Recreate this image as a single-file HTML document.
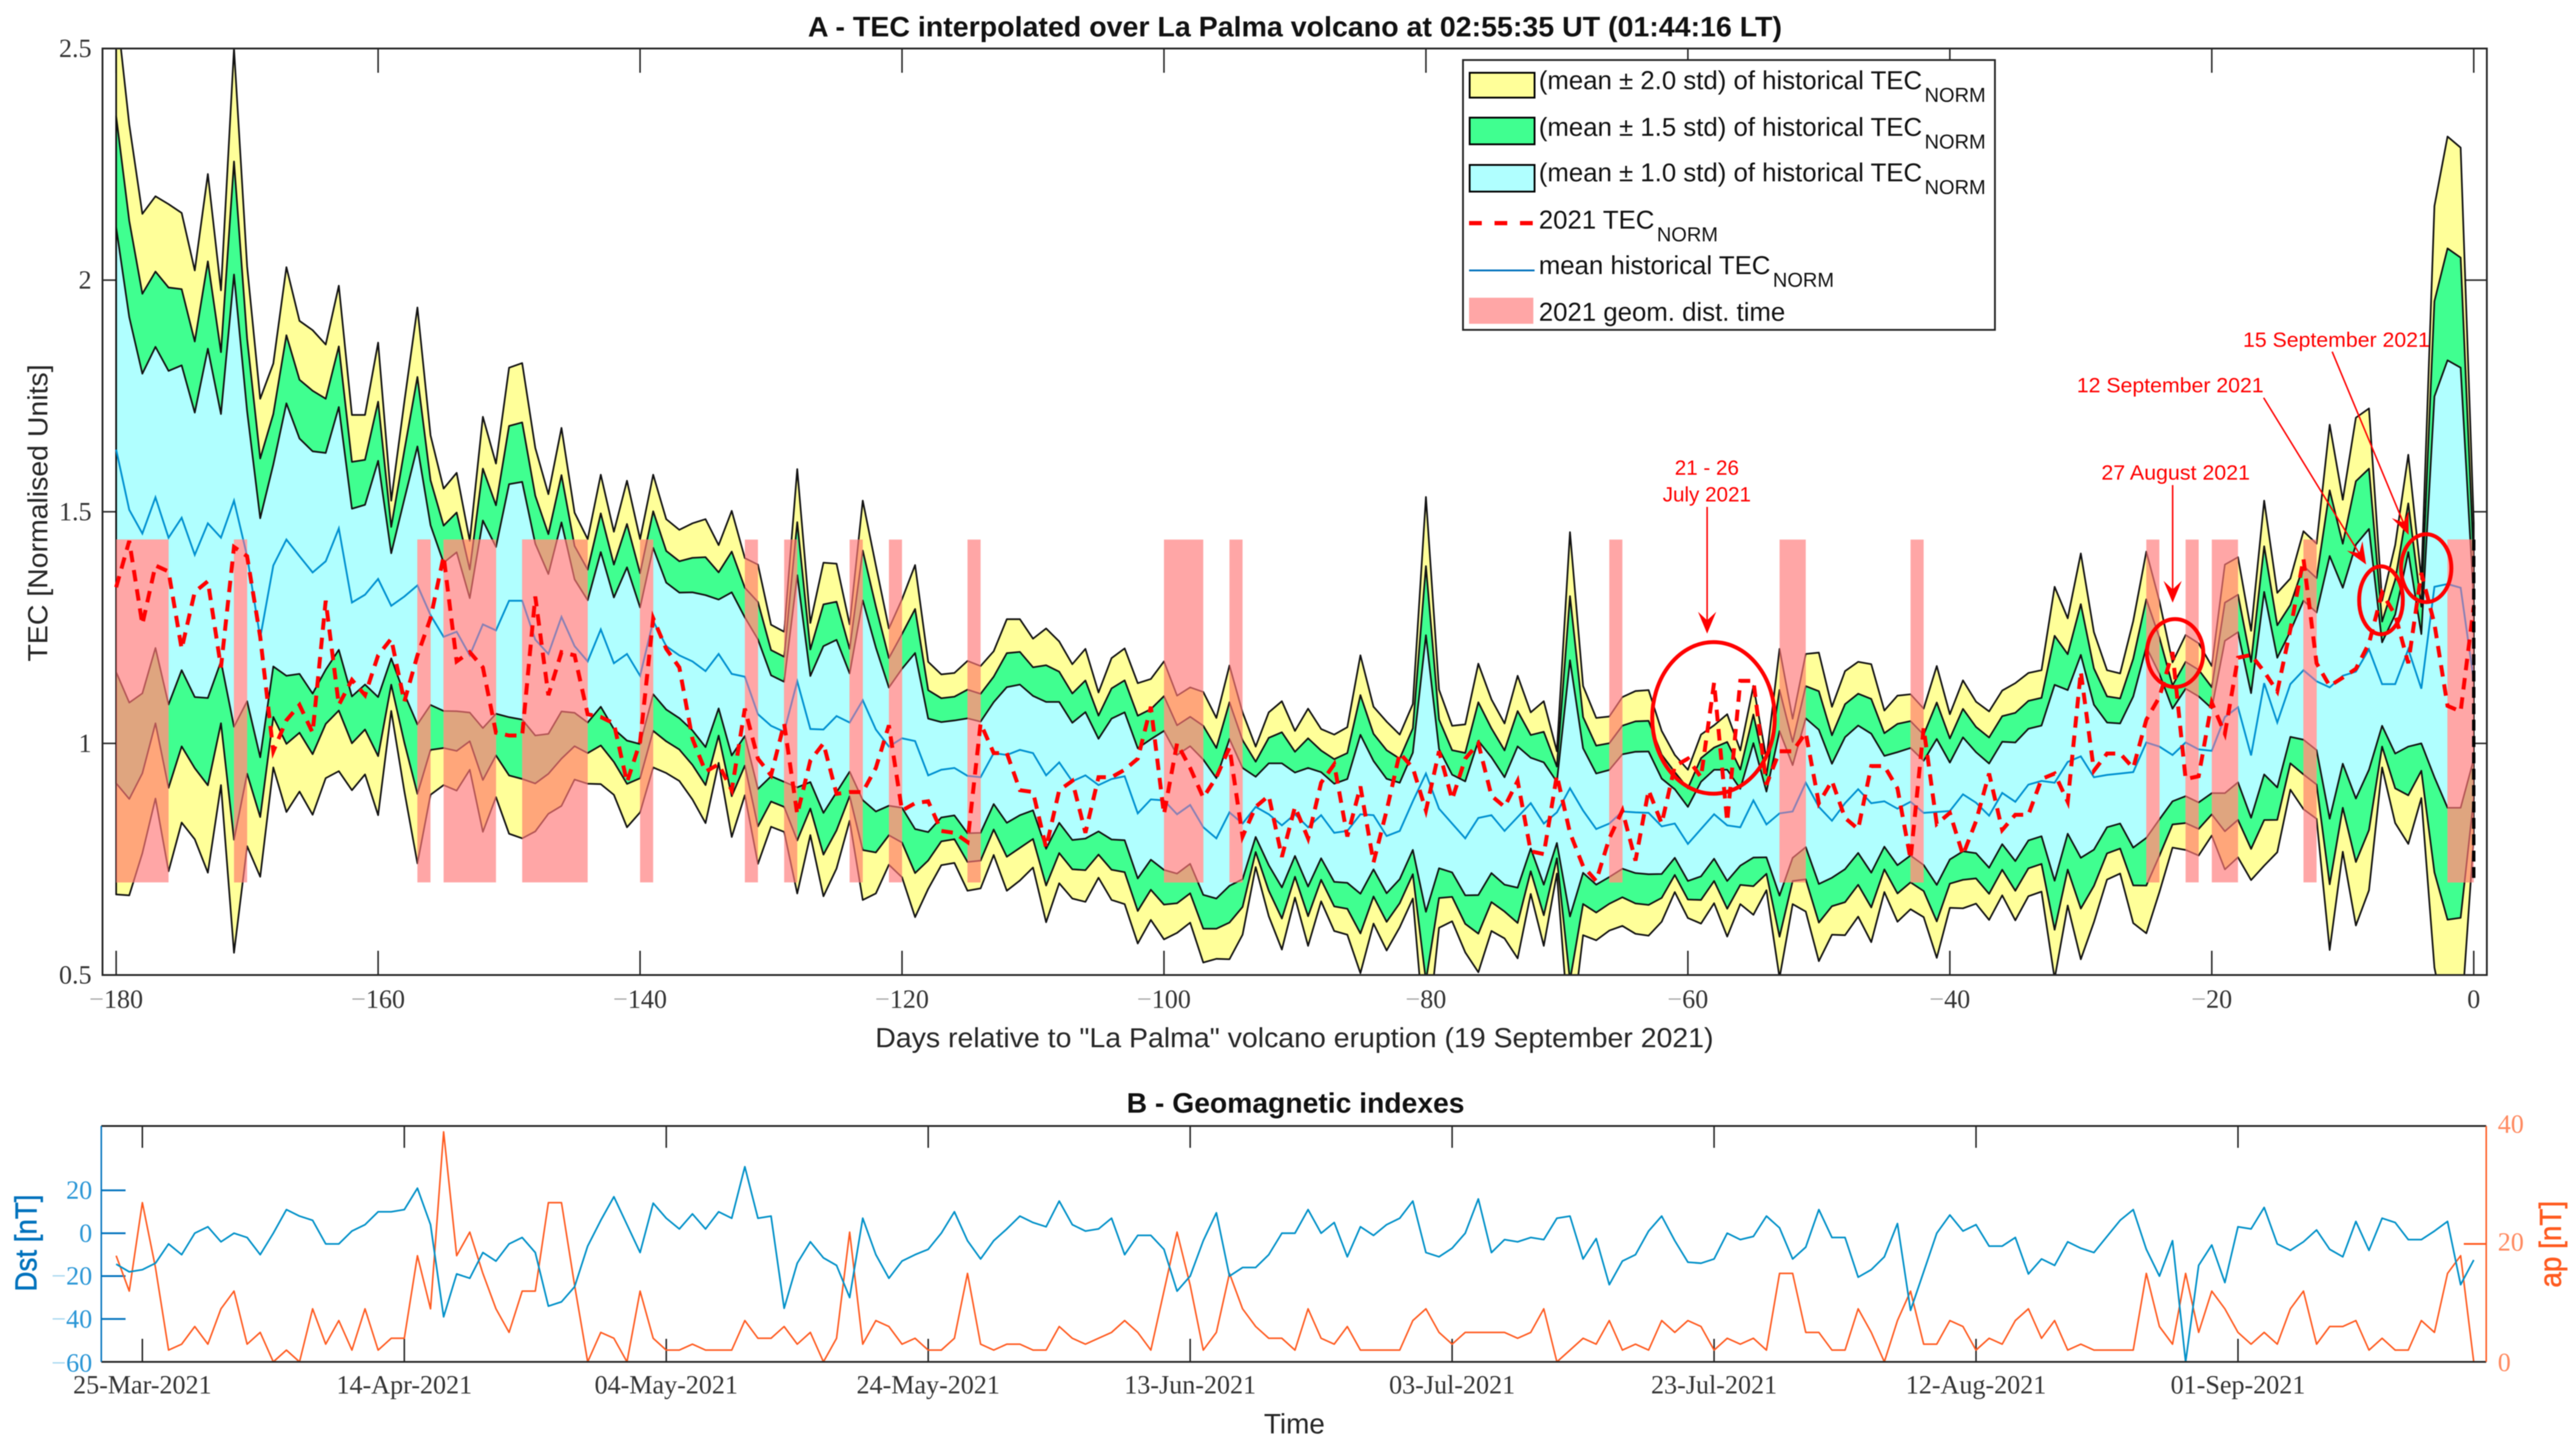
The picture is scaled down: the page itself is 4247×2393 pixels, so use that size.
<!DOCTYPE html>
<html lang="en">
<head>
<meta charset="utf-8">
<title>La Palma TEC and geomagnetic indexes</title>
<style>
html,body{margin:0;padding:0;background:#fff;}
svg{display:block;filter:blur(0.7px);}
text{font-family:"Liberation Sans",sans-serif;fill:#262626;}
.serif{font-family:"Liberation Serif",serif;font-size:43px;fill:#333;}
.leg{font-size:42.5px;fill:#111;}
.ann{font-size:34px;fill:#ff0000;}
</style>
</head>
<body>
<svg id="fig" xmlns="http://www.w3.org/2000/svg" width="4247" height="2393" viewBox="0 0 4247 2393">
  <rect width="4247" height="2393" fill="#fff"/>
  <defs>
    <clipPath id="clipA"><rect x="169" y="80" width="3931" height="1528"/></clipPath>
    <clipPath id="clipPink"></clipPath>
    <clipPath id="clipB"><rect x="167" y="1857" width="3932" height="392"/></clipPath>
  </defs>

  <text x="2135" y="60" text-anchor="middle" font-size="46" font-weight="bold" style="fill:#111" textLength="1606" lengthAdjust="spacingAndGlyphs">A - TEC interpolated over La Palma volcano at 02:55:35 UT (01:44:16 LT)</text>

  <g id="ticksA"></g>
  <g id="plotA" clip-path="url(#clipA)"></g>
  <rect x="169" y="80" width="3931" height="1528" fill="none" stroke="#262626" stroke-width="3"/>
  <g id="labelsA"></g>

  <text transform="translate(78,846) rotate(-90)" text-anchor="middle" font-size="45" textLength="490" lengthAdjust="spacingAndGlyphs">TEC [Normalised Units]</text>
  <text x="2134" y="1727" text-anchor="middle" font-size="45" textLength="1382" lengthAdjust="spacingAndGlyphs">Days relative to "La Palma" volcano eruption (19 September 2021)</text>

  <g>
    <rect x="2412" y="99" width="877" height="445" fill="#fff" stroke="#262626" stroke-width="3"/>
    <rect x="2423" y="120" width="107" height="41" fill="#ffff99" stroke="#000" stroke-width="3"/>
    <text class="leg" x="2537" y="147">(mean ± 2.0 std) of historical TEC<tspan dx="4" dy="21" font-size="33">NORM</tspan></text>
    <rect x="2423" y="194" width="107" height="44" fill="#40ff90" stroke="#000" stroke-width="3"/>
    <text class="leg" x="2537" y="224">(mean ± 1.5 std) of historical TEC<tspan dx="4" dy="21" font-size="33">NORM</tspan></text>
    <rect x="2423" y="272" width="107" height="44" fill="#b0ffff" stroke="#000" stroke-width="3"/>
    <text class="leg" x="2537" y="299">(mean ± 1.0 std) of historical TEC<tspan dx="4" dy="21" font-size="33">NORM</tspan></text>
    <line x1="2422" y1="368" x2="2530" y2="368" stroke="#ff0000" stroke-width="7" stroke-dasharray="21 21"/>
    <text class="leg" x="2537" y="377">2021 TEC<tspan dx="4" dy="21" font-size="33">NORM</tspan></text>
    <line x1="2422" y1="446" x2="2530" y2="446" stroke="#0072bd" stroke-width="3"/>
    <text class="leg" x="2537" y="452">mean historical TEC<tspan dx="4" dy="21" font-size="33">NORM</tspan></text>
    <rect x="2422" y="491" width="106" height="43" fill="#ffa6a6"/>
    <text class="leg" x="2537" y="529">2021 geom. dist. time</text>
  </g>

  <g fill="none" stroke="#ff0000">
    <ellipse cx="2825" cy="1184" rx="101" ry="125" stroke-width="6.5"/>
    <line x1="2814.5" y1="836" x2="2814.5" y2="1040" stroke-width="2.5"/>
    <polygon transform="translate(2814.5,1045) rotate(90)" points="0,0 -36,-15 -22,0 -36,15" fill="#ff0000" stroke="none"/>
    <ellipse cx="3586" cy="1077" rx="46.5" ry="56" stroke-width="6.5"/>
    <line x1="3582" y1="800" x2="3582" y2="988" stroke-width="2.5"/>
    <polygon transform="translate(3582,994) rotate(90)" points="0,0 -36,-15 -22,0 -36,15" fill="#ff0000" stroke="none"/>
    <ellipse cx="3925.5" cy="990" rx="36" ry="56" stroke-width="6.5"/>
    <line x1="3732" y1="656" x2="3899" y2="928" stroke-width="2.5"/>
    <polygon transform="translate(3901,931) rotate(58.4)" points="0,0 -36,-15 -22,0 -36,15" fill="#ff0000" stroke="none"/>
    <ellipse cx="4000" cy="937" rx="41.5" ry="56" stroke-width="6.5"/>
    <line x1="3845" y1="580" x2="3969" y2="878" stroke-width="2.5"/>
    <polygon transform="translate(3971,882) rotate(67.4)" points="0,0 -36,-15 -22,0 -36,15" fill="#ff0000" stroke="none"/>
  </g>
  <text class="ann" x="2814" y="783" text-anchor="middle">21 - 26</text>
  <text class="ann" x="2814" y="827" text-anchor="middle">July 2021</text>
  <text class="ann" x="3587" y="791" text-anchor="middle" textLength="245" lengthAdjust="spacingAndGlyphs">27 August 2021</text>
  <text class="ann" x="3424" y="647" textLength="308" lengthAdjust="spacingAndGlyphs">12 September 2021</text>
  <text class="ann" x="3698" y="572" textLength="308" lengthAdjust="spacingAndGlyphs">15 September 2021</text>

  <text x="2136" y="1835" text-anchor="middle" font-size="46" font-weight="bold" style="fill:#111" textLength="557" lengthAdjust="spacingAndGlyphs">B - Geomagnetic indexes</text>
  <g id="ticksB"></g>
  <g id="plotB" clip-path="url(#clipB)"></g>
  <line x1="167" y1="1857" x2="4099" y2="1857" stroke="#262626" stroke-width="3"/>
  <line x1="167" y1="2246" x2="4099" y2="2246" stroke="#262626" stroke-width="3"/>
  <line x1="167" y1="1857" x2="167" y2="2246" stroke="#0072bd" stroke-width="2.5"/>
  <line x1="4099" y1="1857" x2="4099" y2="2246" stroke="#ff5a1f" stroke-width="2.5"/>
  <g id="labelsB"></g>
  <text transform="translate(60,2050) rotate(-90)" text-anchor="middle" font-size="50" style="fill:#0072bd;stroke:#0072bd;stroke-width:0.8" textLength="160" lengthAdjust="spacingAndGlyphs">Dst [nT]</text>
  <text transform="translate(4222,2052) rotate(-90)" text-anchor="middle" font-size="50" style="fill:#ff5a1f;stroke:#ff5a1f;stroke-width:0.8" textLength="143" lengthAdjust="spacingAndGlyphs">ap [nT]</text>
  <text x="2134" y="2364" text-anchor="middle" font-size="46">Time</text>
</svg>

<script>
const meanHistTec=[1.634,1.504,1.453,1.531,1.444,1.487,1.407,1.475,1.444,1.524,
1.404,1.228,1.384,1.44,1.404,1.369,1.393,1.464,1.304,1.321,
1.355,1.297,1.317,1.341,1.277,1.23,1.241,1.19,1.257,1.244,
1.308,1.308,1.224,1.193,1.273,1.21,1.177,1.246,1.173,1.193,
1.146,1.264,1.21,1.19,1.177,1.156,1.193,1.15,1.144,1.063,
1.038,1.025,1.134,1.031,1.03,1.059,1.045,1.093,1.03,.993,
1.011,1.005,.931,.943,.947,.93,.927,.979,.975,.986,
.979,.931,.959,.918,.931,.91,.923,.929,.849,.879,
.877,.847,.867,.819,.795,.851,.827,.863,.847,.823,
.847,.819,.845,.807,.811,.847,.845,.8,.811,.875,
.935,.859,.827,.795,.839,.845,.811,.841,.871,.827,
.851,.903,.855,.815,.827,.853,.851,.85,.821,.827,
.783,.815,.847,.823,.819,.877,.825,.849,.853,.915,
.863,.833,.871,.901,.871,.875,.859,.874,.85,.852,
.854,.89,.872,.844,.893,.874,.911,.919,.915,.96,
.972,.927,.932,.935,.938,1.002,.993,.975,1.002,.987,
.984,1.057,1.078,.974,1.13,1.045,1.128,1.158,1.134,1.121,
1.146,1.155,1.203,1.128,1.128,1.203,1.118,1.338,1.344,1.336,1.136];

const stdHistTec=[.48,.416,.345,.325,.36,.329,.307,.377,.267,.488,
.313,.258,.218,.294,.254,.2615,.234,.262,.2025,.194,
.255,.1135,.21,.3,.194,.16,.1715,.1235,.224,.18,
.2515,.2565,.207,.1725,.204,.144,.132,.167,.142,.187,
.1475,.158,.137,.1355,.149,.164,.1175,.176,.128,.1615,
.109,.108,.229,.1145,.18,.1645,.106,.2155,.177,.1275,
.15,.19,.1225,.103,.1025,.124,.12,.11,.1465,.141,
.1235,.1585,.1305,.1265,.1365,.1,.1305,.138,.1405,.13,
.15,.128,.127,.146,.13,.1585,.12,.065,.11,.134,
.09,.128,.093,.106,.112,.1715,.117,.1235,.104,.105,
.2985,.1285,.1055,.123,.1665,.125,.116,.1525,.098,.132,
.066,.2765,.1345,.12,.1155,.1235,.131,.1325,.103,.074,
.08,.102,.096,.12,.083,.1235,.071,.1775,.1,.139,
.1665,.123,.1425,.1375,.15,.098,.122,.116,.1125,.1575,
.1045,.123,.109,.1125,.1105,.128,.1205,.1195,.2115,.155,
.219,.1565,.113,.108,.163,.206,.157,.1,.116,.1145,
.0915,.1645,.162,.1345,.197,.14,.114,.15,.1485,.2835,
.19,.274,.26,.09,.15,.21,.118,.411,.483,.475,.17];

const tec2021=[1.337,1.437,1.257,1.384,1.371,1.204,1.327,1.35,1.164,1.424,
1.404,1.23,.983,1.05,1.083,1.023,1.308,1.083,1.137,1.104,
1.19,1.226,1.09,1.19,1.27,1.404,1.177,1.197,1.164,1.023,
1.017,1.017,1.317,1.104,1.197,1.19,1.063,1.057,1.043,.916,
1.003,1.27,1.204,1.164,1.01,.939,.955,.899,1.075,.967,
.931,1.043,.847,.963,1.0,.891,.895,.895,.947,1.039,
.855,.871,.875,.811,.807,.787,1.043,.979,.979,.899,
.895,.775,.899,.919,.807,.927,.927,.943,.967,1.079,
.847,1.0,.947,.883,.927,.991,.799,.863,.887,.755,
.863,.795,.915,.955,.799,.907,.743,.855,.979,.947,
.855,.983,.879,.967,1.0,.887,.863,.919,.767,.761,
.931,.807,.735,.703,.795,.855,.747,.899,.827,.951,
.967,.927,1.131,.831,1.135,1.135,.911,.983,.983,1.023,
.871,.919,.839,.815,.951,.951,.903,.75,1.033,.826,
.85,.759,.832,.935,.813,.846,.846,.923,.935,.874,
1.155,.941,.978,.978,.947,1.051,1.1,1.197,.923,.929,
1.088,1.021,1.185,1.191,1.155,1.112,1.246,1.398,1.173,1.124,
1.142,1.161,1.216,1.325,1.277,1.173,1.368,1.258,1.081,1.069,1.295];

const geomDistStart=[-180,-171,-157,-155,-149,-140,-132,-129,-124,-121,-115,-100,-95,-66,-53,-43,-25,-22,-20,-13,-2];
const geomDistEnd=[-176,-170,-156,-151,-144,-139,-131,-128,-123,-120,-114,-97,-94,-65,-51,-42,-24,-21,-18,-12,0];
const geomDistTop=[1.44];
const geomDistBottom=[0.7];
const bandLevels=[2,1.5,1];

const xTicksA=[-180,-160,-140,-120,-100,-80,-60,-40,-20,0];
const yTicksA=[0.5,1,1.5,2,2.5];
const yTickLabelsA=["0.5","1","1.5","2","2.5"];

const dstValues=[-14.4,-18,-17,-14,-5,-10,0,3,-4,0,-2,-10,0,11,8,6,-5,-5,1,4,10,10,11,21,4,-39,-19,-21,-9,-13,-5,-2,-9,-34,-32,-25,-6,6,17,4,-9,14,7,2,9,2,10,7,31,7,8,-35,-14,-4,-11.5,-15,-30,
7,-10,-21,-13,-10,-7.5,0,10,-3.5,-12,-3.5,2,8,5,3,15,4,1,2,7,-10,-1,-1,-7.5,-27,-20,-3.5,9.5,-20,-16,-16,-10,0,0,11,0,5,-11,3,-1,4,7,15,-9,-11,-7,0,16,-9,-3,-4,-2,-3,7,8,-12,-2.5,-24,-13,-10,1,8,-3.5,-13.5,
-14,-12,0,-3,-1.5,8,2.5,-12,-6.5,11,-2,-2,-20.5,-17,-11,4.5,-36,-18,0,8.5,1,4,-6,-6,-2,-19,-12,-15,-4,-7,-9,-1.5,6,11,-7.5,-20,-3.5,-60,-15,-5.5,-23,3,2,12,-5,-8,-4,1.5,-7.5,-11,5.5,-8,7,5,-3,-3,1,5.5,-24,-12.5];

const apValues=[18,12,27,16,2,3,6,3,9,12,3,5,0,2,0,9,3,7,2,9,2,4,4,18,9,39,18,22,15,9,5,12,12,27,27,13,0,5,4,0,12,4,2,2,3,2,2,2,7,4,4,6,3,5,0,4,22,
3,7,6,3,4,2,2,4,15,3,2,3,3,2,2,6,4,3,4,5,7,5,2,12,22,13,2,5,15,9,6,4,4,2,9,4,3,6,2,2,2,2,7,9,5,3,5,5,5,5,4,5,9,0,2,4,3,7,2,3,2,7,5,7,
6,2,4,3,4,2,15,15,5,5,2,2,9,5,0,7,12,3,3,7,6,2,4,3,7,9,4,7,2,3,2,2,2,2,15,6,3,15,5,12,9,5,3,5,3,9,12,3,6,6,7,2,4,2,2,7,5,15,18,0];

const dateTickIndex=[2,22,42,62,82,102,122,142,162];
const dateTickLabels=["25-Mar-2021","14-Apr-2021","04-May-2021","24-May-2021","13-Jun-2021","03-Jul-2021","23-Jul-2021","12-Aug-2021","01-Sep-2021"];
const dstTicks=[-60,-40,-20,0,20];
const apTicks=[0,20,40];

const NS="http://www.w3.org/2000/svg";
function xA(day){return 191.5+21.594*(day+180);}
function yA(v){return 80+(2.5-v)*764;}
function xB(i){return 191.5+21.594*i;}
function yDst(v){return 2246-(v+60)*3.536;}
function yAp(v){return 2246-v*9.725;}
function mk(tag,parent,attrs){
  const e=document.createElementNS(NS,tag);
  for(const k in attrs){e.setAttribute(k,attrs[k]);}
  parent.appendChild(e);
  return e;
}
function seriesPath(values,xf,yf){
  let d="";
  values.forEach(function(v,i){d+=(i?"L":"M")+xf(i).toFixed(1)+" "+yf(v).toFixed(1);});
  return d;
}
function bandPath(k){
  let up="",low="";
  meanHistTec.forEach(function(m,i){up+=(i?"L":"M")+xA(i-180).toFixed(1)+" "+yA(m+k*stdHistTec[i]).toFixed(1);});
  for(let i=meanHistTec.length-1;i>=0;i--){low+="L"+xA(i-180).toFixed(1)+" "+yA(meanHistTec[i]-k*stdHistTec[i]).toFixed(1);}
  return up+low+"Z";
}
function meanXf(i){return xA(i-180);}
function signedLabel(v,color){
  return v<0?'<tspan style="fill:'+color+'">\u2212</tspan>'+Math.abs(v):String(v);
}

const plotA=document.getElementById("plotA");
const ticksA=document.getElementById("ticksA");
const labelsA=document.getElementById("labelsA");
const clipPink=document.getElementById("clipPink");

/* Panel A ticks */
xTicksA.forEach(function(d){
  const t1=mk("line",ticksA,{x1:xA(d),x2:xA(d),y1:1608,y2:1568,stroke:"#262626","stroke-width":2.5});
  
  
  const t2=mk("line",ticksA,{x1:xA(d),x2:xA(d),y1:80,y2:120,stroke:"#262626","stroke-width":2.5});
  
  
  const lab=mk("text",labelsA,{x:xA(d),y:1662,"text-anchor":"middle","class":"serif"});
  
  
  lab.innerHTML=signedLabel(d,"#aaa");
});
yTicksA.forEach(function(v,i){
  const t1=mk("line",ticksA,{x1:169,x2:209,y1:yA(v),y2:yA(v),stroke:"#262626","stroke-width":2.5});
  
  
  const t2=mk("line",ticksA,{x1:4060,x2:4100,y1:yA(v),y2:yA(v),stroke:"#262626","stroke-width":2.5});
  
  
  const lab=mk("text",labelsA,{x:151,y:yA(v)+14,"text-anchor":"end","class":"serif"});
  
  
  lab.textContent=yTickLabelsA[i];
});

/* Bands */
const bandFill=["#ffff99","#40ff90","#b0ffff"];
const bandNames=["band-2-std","band-1-5-std","band-1-std"];
bandLevels.forEach(function(k,i){
  const b=mk("path",plotA,{d:bandPath(k),fill:bandFill[i],stroke:"#111","stroke-width":2.8,"stroke-linejoin":"round"});
  
  
});
const meanLine=mk("path",plotA,{d:seriesPath(meanHistTec,meanXf,yA),fill:"none",stroke:"#0090d0","stroke-width":3});



/* Geomagnetic disturbance windows */
geomDistStart.forEach(function(s,i){
  const r=mk("rect",clipPink,{x:xA(s),y:yA(geomDistTop[0]),width:xA(geomDistEnd[i])-xA(s),height:yA(geomDistBottom[0])-yA(geomDistTop[0])});
  
  
});
const pinkGroup=mk("g",plotA,{"clip-path":"url(#clipPink)"});


const pinkBase=mk("rect",pinkGroup,{x:169,y:80,width:3931,height:1528,fill:"#ffa6a6"});


const tintFill=["#ffa67a","#dfa57f","#ffa6a6"];
bandLevels.forEach(function(k,i){
  const b=mk("path",pinkGroup,{d:bandPath(k),fill:tintFill[i],stroke:"#b25454","stroke-width":2.6,"stroke-linejoin":"round"});
  
  
});
const meanTint=mk("path",pinkGroup,{d:seriesPath(meanHistTec,meanXf,yA),fill:"none",stroke:"#8a80b4","stroke-width":3});



/* 2021 TEC */
const tecLine=mk("path",plotA,{d:seriesPath(tec2021,meanXf,yA),fill:"none",stroke:"#ff0000","stroke-width":6.5,"stroke-dasharray":"19 13"});


const eruptionLine=mk("line",plotA,{x1:xA(0),x2:xA(0),y1:yA(geomDistTop[0]),y2:yA(geomDistBottom[0]),stroke:"#000","stroke-width":5.5,"stroke-dasharray":"18 9"});



/* Panel B */
const ticksB=document.getElementById("ticksB");
const labelsB=document.getElementById("labelsB");
const plotB=document.getElementById("plotB");
dateTickIndex.forEach(function(ix,i){
  const t1=mk("line",ticksB,{x1:xB(ix),x2:xB(ix),y1:1857,y2:1893,stroke:"#262626","stroke-width":2.5});
  
  
  const t2=mk("line",ticksB,{x1:xB(ix),x2:xB(ix),y1:2246,y2:2208,stroke:"#262626","stroke-width":2.5});
  
  
  const lab=mk("text",labelsB,{x:xB(ix),y:2298,"text-anchor":"middle","class":"serif"});
  
  
  lab.textContent=dateTickLabels[i];
});
dstTicks.forEach(function(v){
  const t=mk("line",ticksB,{x1:167,x2:207,y1:yDst(v),y2:yDst(v),stroke:"#0072bd","stroke-width":3});
  
  
  const lab=mk("text",labelsB,{x:152,y:yDst(v)+(v===-60?16:14),"text-anchor":"end","class":"serif",style:"fill:#2a96d6"});
  
  
  lab.innerHTML=signedLabel(v,"#a8d8f0");
});
apTicks.forEach(function(v){
  const t=mk("line",ticksB,{x1:4062,x2:4099,y1:yAp(v),y2:yAp(v),stroke:"#ff5a1f","stroke-width":3});
  
  
  const lab=mk("text",labelsB,{x:4118,y:yAp(v)+(v===0?15:11),"class":"serif",style:"fill:#ff8a60"});
  
  
  lab.textContent=String(v);
});
const apLine=mk("path",plotB,{d:seriesPath(apValues,xB,yAp),fill:"none",stroke:"#ff5a1f","stroke-width":2.6,"stroke-linejoin":"round"});


const dstLine=mk("path",plotB,{d:seriesPath(dstValues,xB,yDst),fill:"none",stroke:"#0090c8","stroke-width":2.8,"stroke-linejoin":"round"});


</script>
</body>
</html>
